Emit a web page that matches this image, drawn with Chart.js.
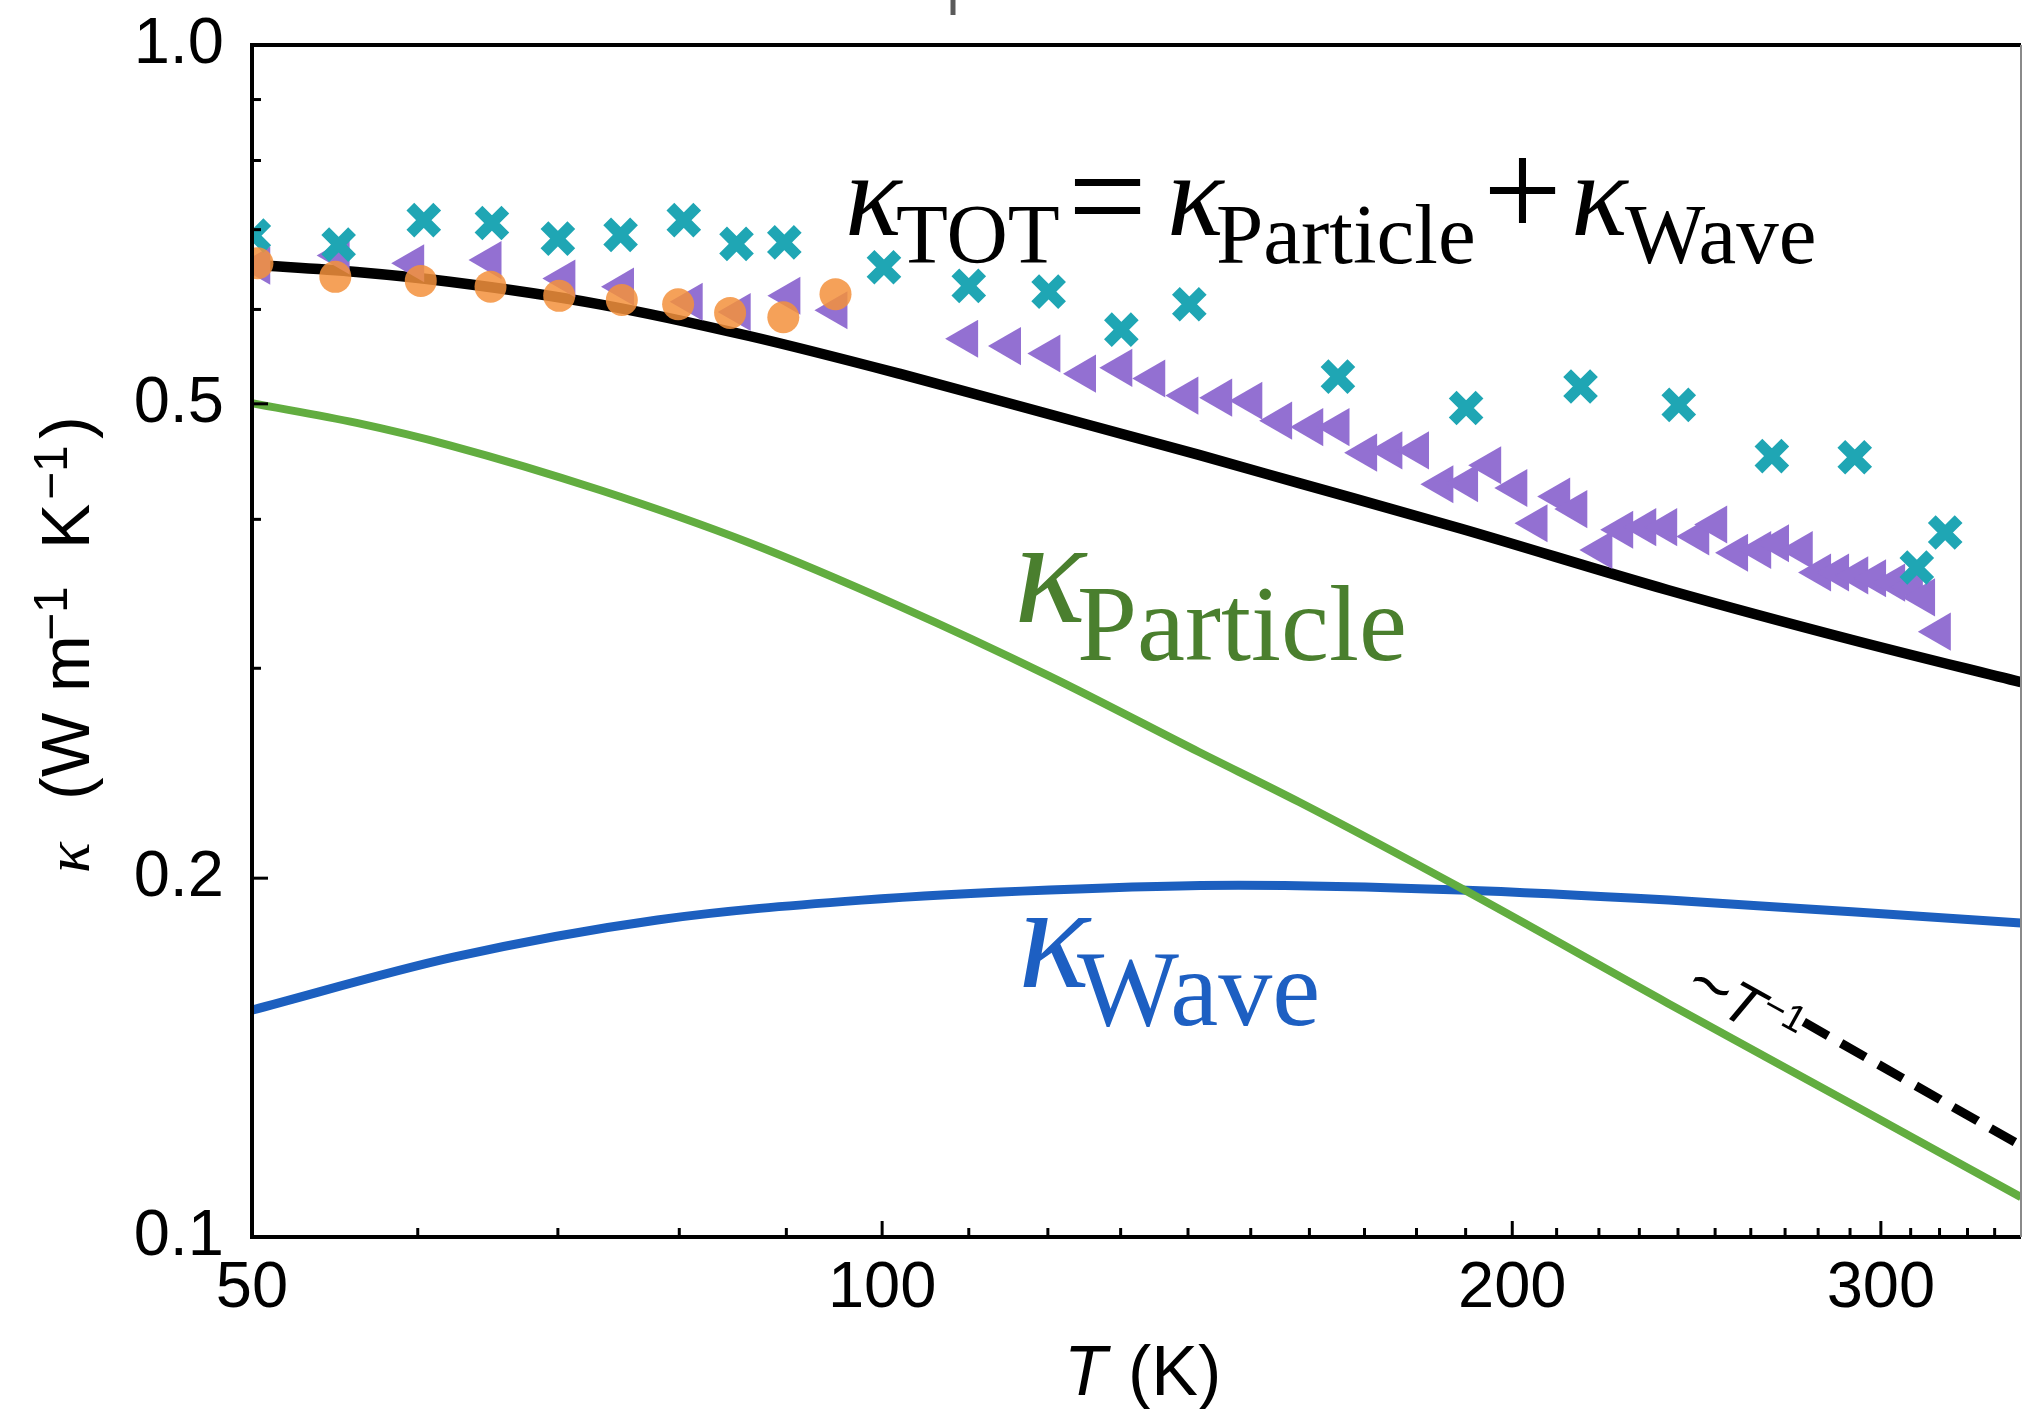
<!DOCTYPE html>
<html>
<head>
<meta charset="utf-8">
<script src="https://cdn.jsdelivr.net/npm/chart.js@4.4.0/dist/chart.umd.min.js"></script>
<style>
  html, body { margin: 0; padding: 0; background: #fff; }
  canvas { display: block; }
</style>
</head>
<body>
<canvas id="kappa" width="2023" height="1409"></canvas>
<script>
// Temperatures in K, conductivities in W m^-1 K^-1

// model curves
const totT = [50, 56.1, 62.15, 73.3, 86.4, 101.9, 120.2, 141.7, 158.2, 188.9, 237.3, 290.5, 350];
const totK = [0.654, 0.645, 0.633, 0.606, 0.570, 0.530, 0.490, 0.453, 0.429, 0.393, 0.349, 0.317, 0.292];

const partT = [50, 56.1, 62.15, 73.3, 86.4, 101.9, 120.2, 141.7, 158.2, 188.9, 237.3, 290.5, 350];
const partK = [0.5006, 0.4819, 0.4615, 0.4233, 0.3823, 0.3383, 0.2955, 0.2552, 0.2317, 0.1963, 0.1571, 0.1293, 0.1080];

const waveT = [50, 62.4, 78.1, 97.8, 120.2, 148, 188.8, 237.5, 290.6, 350];
const waveK = [0.155, 0.1717, 0.1845, 0.1917, 0.1955, 0.1973, 0.1955, 0.1917, 0.1874, 0.1834];

// ~T^-1 guide
const guideT = [275.6, 350];
const guideK = [0.1515, 0.1193];

// measurements
const crossT = [50.1, 55.0, 60.4, 65.1, 70.0, 75.0, 80.4, 85.2, 89.8, 100.2, 110, 120.1, 130.1, 140.2, 165.1, 190.1, 215.6, 240.2, 266.1, 291.5, 312.1, 322];
const crossK = [0.692, 0.680, 0.713, 0.709, 0.688, 0.693, 0.713, 0.681, 0.683, 0.651, 0.628, 0.621, 0.577, 0.606, 0.527, 0.496, 0.517, 0.499, 0.452, 0.451, 0.3645, 0.390];

const circT = [50.3, 54.8, 60.2, 65.0, 70.1, 75.1, 79.9, 84.6, 89.7, 95.0];
const circK = [0.656, 0.639, 0.634, 0.627, 0.616, 0.611, 0.606, 0.596, 0.591, 0.618];

const triT = [50.4, 55.0, 59.7, 65.0, 70.5, 75.2, 81.1, 85.5, 90.3, 95.1,
  109.8, 115.1, 120.2, 125.0, 130.1, 134.9, 139.9, 145.2, 150.1, 155.1,
  160.5, 165.2, 170.3, 175.1, 180.3, 185.2, 190.3, 195.2, 200.9, 205.4,
  210.6, 214.6, 220.6, 225.7, 231.5, 236.9, 245.4, 250.3, 256.1, 262.7,
  267.9, 275.0, 280.6, 286.2, 292.3, 298.1, 304.4, 310.4, 314.6, 320.1];
const triK = [0.653, 0.666, 0.656, 0.660, 0.637, 0.627, 0.609, 0.597, 0.616, 0.599,
  0.567, 0.559, 0.551, 0.530, 0.536, 0.525, 0.508, 0.506, 0.503, 0.484,
  0.478, 0.478, 0.455, 0.457, 0.457, 0.428, 0.429, 0.444, 0.425, 0.397,
  0.418, 0.408, 0.377, 0.392, 0.394, 0.394, 0.387, 0.396, 0.375, 0.377,
  0.382, 0.377, 0.361, 0.361, 0.359, 0.357, 0.354, 0.351, 0.344, 0.322];

// axes
const xTicks = [50, 60, 70, 80, 90, 100, 110, 120, 130, 140, 150, 160, 170, 180, 190,
  200, 210, 220, 230, 240, 250, 260, 270, 280, 290, 300, 310, 320, 330, 340];
const xLabels = [50, 100, 200, 300];
const yTicks = [0.1, 0.2, 0.3, 0.4, 0.5, 0.6, 0.7, 0.8, 0.9, 1.0];
const yLabels = [0.1, 0.2, 0.5, 1.0];

const SANS = '"Liberation Sans", Arial, sans-serif';
const SERIF = '"Liberation Serif", "Times New Roman", serif';

function pts(xs, ys) {
  return xs.map((x, i) => ({ x: x, y: ys[i] }));
}

function put(c, text, font, x, y, color) {
  c.font = font;
  c.fillStyle = color || '#000';
  c.fillText(text, x, y);
}

// keep the plot box where the layout padding puts it
function noLabelPadding(axis) {
  axis.paddingLeft = 0;
  axis.paddingRight = 0;
  axis.paddingTop = 0;
  axis.paddingBottom = 0;
}

// frame, inward ticks and all the text that sits on the plot
const decor = {
  id: 'decor',
  beforeDraw(chart) {
    const c = chart.ctx;
    c.save();
    c.fillStyle = '#fff';
    c.fillRect(0, 0, chart.width, chart.height);
    c.restore();
  },
  afterDraw(chart) {
    const c = chart.ctx;
    const a = chart.chartArea;
    const sx = chart.scales.x, sy = chart.scales.y;
    c.save();
    c.textAlign = 'left';
    c.textBaseline = 'alphabetic';

    c.strokeStyle = '#000';
    c.lineWidth = 3;
    xTicks.forEach(v => {
      if (v === 50) return;
      const px = sx.getPixelForValue(v);
      const len = xLabels.includes(v) ? 16 : 9;
      c.beginPath(); c.moveTo(px, a.bottom); c.lineTo(px, a.bottom - len); c.stroke();
    });
    yTicks.forEach(v => {
      if (v === 0.1 || v === 1.0) return;
      const py = sy.getPixelForValue(v);
      const len = yLabels.includes(v) ? 16 : 9;
      c.beginPath(); c.moveTo(a.left, py); c.lineTo(a.left + len, py); c.stroke();
    });

    // box
    c.lineWidth = 4;
    c.beginPath();
    c.moveTo(a.right, a.top); c.lineTo(a.left, a.top);
    c.lineTo(a.left, a.bottom); c.lineTo(a.right, a.bottom);
    c.stroke();
    c.strokeStyle = '#8a8a8a';
    c.lineWidth = 2;
    c.beginPath(); c.moveTo(a.right, a.top); c.lineTo(a.right, a.bottom); c.stroke();

    // stub of the panel above
    c.strokeStyle = '#5a5a5a';
    c.lineWidth = 5;
    c.beginPath(); c.moveTo(953, 0); c.lineTo(953, 15); c.stroke();

    // kappa_TOT = kappa_Particle + kappa_Wave
    put(c, 'κ', 'italic 118px ' + SERIF, 845, 235);
    put(c, 'TOT', '85px ' + SERIF, 896, 263);
    put(c, '=', '140px ' + SERIF, 1068, 243);
    put(c, 'κ', 'italic 118px ' + SERIF, 1167, 235);
    put(c, 'Particle', '85px ' + SERIF, 1216, 263);
    put(c, '+', '140px ' + SERIF, 1483, 237);
    put(c, 'κ', 'italic 118px ' + SERIF, 1571, 235);
    put(c, 'Wave', '85px ' + SERIF, 1625, 263);

    // curve labels
    put(c, 'κ', 'italic 150px ' + SERIF, 1014, 622, '#4a7f2e');
    put(c, 'Particle', '108px ' + SERIF, 1077, 660, '#4a7f2e');
    put(c, 'κ', 'italic 150px ' + SERIF, 1018, 987, '#1d5fc2');
    put(c, 'Wave', '108px ' + SERIF, 1077, 1025, '#1d5fc2');

    // ~T^-1 along the dashed guide
    c.save();
    c.translate(1680, 992);
    c.rotate(29 * Math.PI / 180);
    put(c, '∼', '58px "DejaVu Sans", sans-serif', 0, -2);
    put(c, 'T', 'italic 58px ' + SANS, 44, 0);
    put(c, '−1', '38px ' + SANS, 80, -20);
    c.restore();

    // y title, reading bottom to top
    c.save();
    c.translate(89, 873);
    c.rotate(-Math.PI / 2);
    put(c, 'κ', 'italic 64px ' + SERIF, 0, 0);
    put(c, '(', '68px ' + SANS, 73, 0);
    put(c, 'W', '68px ' + SANS, 96, 0);
    put(c, 'm', '68px ' + SANS, 181, 0);
    put(c, '−1', '48px ' + SANS, 232, -22);
    put(c, 'K', '68px ' + SANS, 324, 0);
    put(c, '−1', '48px ' + SANS, 373, -22);
    put(c, ')', '68px ' + SANS, 434, 0);
    c.restore();

    // x title
    put(c, 'T', 'italic 70px ' + SANS, 1064, 1395);
    put(c, '(K)', '70px ' + SANS, 1128, 1395);

    c.restore();
  }
};

const line = (data, color, width, order, dash) => ({
  data: data,
  showLine: true,
  borderColor: color,
  borderWidth: width,
  borderDash: dash || [],
  borderCapStyle: 'butt',
  pointRadius: 0,
  cubicInterpolationMode: 'monotone',
  fill: false,
  clip: 0,
  order: order
});

new Chart(document.getElementById('kappa'), {
  type: 'scatter',
  data: {
    datasets: [
      {
        data: pts(circT, circK),
        pointStyle: 'circle',
        pointRadius: 16,
        pointBackgroundColor: 'rgba(243, 145, 60, 0.85)',
        pointBorderWidth: 0,
        clip: 0,
        order: 1
      },
      {
        data: pts(crossT, crossK),
        pointStyle: 'crossRot',
        pointRadius: 19,
        pointBorderColor: '#1fa6b4',
        pointBorderWidth: 11,
        clip: 0,
        order: 2
      },
      {
        data: pts(triT, triK),
        pointStyle: 'triangle',
        rotation: -90,
        pointRotation: -90,
        pointRadius: 22,
        pointBackgroundColor: '#9370d2',
        pointBorderWidth: 0,
        clip: 0,
        order: 3
      },
      line(pts(guideT, guideK), '#000', 9, 4, [28, 15]),
      line(pts(partT, partK), '#62ad40', 8, 5),
      line(pts(waveT, waveK), '#1c5fbf', 9, 6),
      line(pts(totT, totK), '#000', 10.5, 7)
    ]
  },
  options: {
    responsive: false,
    animation: false,
    events: [],
    layout: { autoPadding: false, padding: { top: 45, right: 2, left: 0, bottom: 0 } },
    plugins: { legend: { display: false }, tooltip: { enabled: false } },
    scales: {
      x: {
        type: 'logarithmic',
        min: 50,
        max: 350,
        grid: { display: false, drawTicks: false },
        border: { display: false },
        afterBuildTicks: axis => { axis.ticks = xTicks.map(v => ({ value: v })); },
        afterFit: axis => { axis.height = 172; noLabelPadding(axis); },
        ticks: {
          autoSkip: false,
          maxRotation: 0,
          padding: 13,
          color: '#000',
          font: { family: SANS, size: 65 },
          callback: v => (xLabels.includes(v) ? String(v) : '')
        }
      },
      y: {
        type: 'logarithmic',
        min: 0.1,
        max: 1.0,
        grid: { display: false, drawTicks: false },
        border: { display: false },
        afterBuildTicks: axis => { axis.ticks = yTicks.map(v => ({ value: v })); },
        afterFit: axis => { axis.width = 252; noLabelPadding(axis); },
        ticks: {
          autoSkip: false,
          padding: 28,
          color: '#000',
          font: { family: SANS, size: 65 },
          callback: v => (yLabels.includes(v) ? v.toFixed(1) : '')
        }
      }
    }
  },
  plugins: [decor]
});
</script>
</body>
</html>
